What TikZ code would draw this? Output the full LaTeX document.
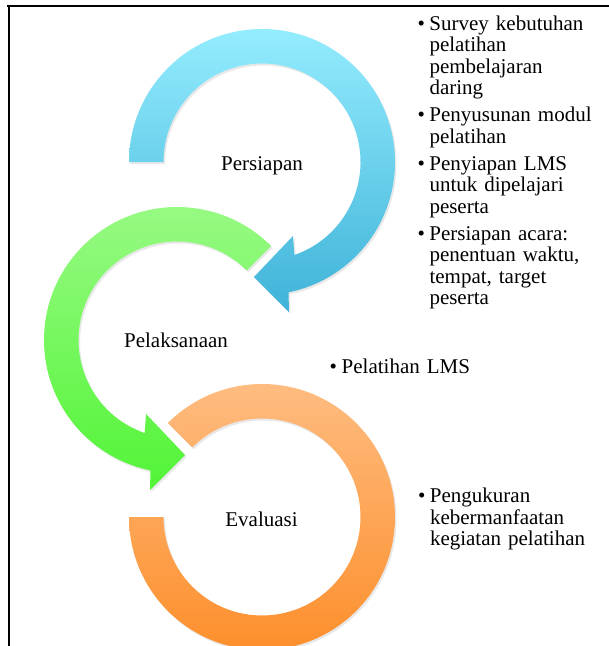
\documentclass[tikz,border=0pt]{standalone}
\usepackage{fontspec}
\setmainfont{Liberation Serif}
\usetikzlibrary{shadows}

\definecolor{persiapanTop}{HTML}{94ECFE}
\definecolor{persiapanBot}{HTML}{3FB3D8}
\definecolor{pelaksanaanTop}{HTML}{9AFA86}
\definecolor{pelaksanaanBot}{HTML}{52F437}
\definecolor{evaluasiTop}{HTML}{FEBC80}
\definecolor{evaluasiBot}{HTML}{FD8F2C}

\tikzset{
    ringarrow/.style 2 args={top color=#1, bottom color=#2, draw=none,
        drop shadow={shadow xshift=1.5pt, shadow yshift=-2pt, opacity=0.18}},
    captext/.style={font=\fontsize{21}{21.5}\selectfont, inner sep=0pt},
    bulletlist/.style={captext, align=left, text width=190pt, anchor=north west}
}
\newcommand{\bul}[1]{\hangindent=12pt\hangafter=1\makebox[12pt][l]{\strut\textbullet}#1\par}

\begin{document}
\begin{tikzpicture}[x=1pt, y=1pt]
    \useasboundingbox (0,0) rectangle (609,-646);
    \draw[line width=2.7pt] (7,-6) -- (609,-6);
    \draw[line width=2pt] (8.5,-6) -- (8.5,-646);
    \begin{scope}[shift={(262,-162)}]
        \path[ringarrow={persiapanTop}{persiapanBot}] (180:98.5) -- (180:133)
            arc[start angle=180, end angle=-78.5, radius=133] -- (-79.8:152.4) -- (-94:115.3)
            -- (-67.3:80.2) -- (-70.8:98.5) arc[start angle=-70.8, end angle=180, radius=98.5] -- cycle;
    \end{scope}
    \begin{scope}[shift={(177,-340)}]
        \path[ringarrow={pelaksanaanTop}{pelaksanaanBot}] (45:98.5) -- (45:133)
            arc[start angle=45, end angle=258.5, radius=133] -- (259.8:152.4) -- (274:115.3)
            -- (247.3:80.2) -- (250.8:98.5) arc[start angle=250.8, end angle=45, radius=98.5] -- cycle;
    \end{scope}
    \begin{scope}[shift={(262,-517)}]
        \path[ringarrow={evaluasiTop}{evaluasiBot}] (180:98.5) -- (180:133)
            arc[start angle=180, end angle=495, radius=133] -- (135:98.5)
            arc[start angle=135, end angle=-180, radius=98.5] -- cycle;
    \end{scope}
    \node[captext, anchor=base] (persiapan) at (262,-170) {Persiapan};
    \node[captext, anchor=base] (pelaksanaan) at (176,-347) {Pelaksanaan};
    \node[captext, anchor=base] (evaluasi) at (261.5,-526.5) {Evaluasi};
    \node[bulletlist] (persiapanList) at (417.3,-15) {%
        \bul{Survey kebutuhan\newline pelatihan\newline pembelajaran\newline daring}\vspace{5.5pt}
        \bul{Penyusunan modul\newline pelatihan}\vspace{5.5pt}
        \bul{Penyiapan LMS\newline untuk dipelajari\newline peserta}\vspace{5.5pt}
        \bul{Persiapan acara:\newline penentuan waktu,\newline tempat, target\newline peserta}};
    \node[bulletlist] (pelaksanaanList) at (329.5,-358.3) {\bul{Pelatihan LMS}};
    \node[bulletlist] (evaluasiList) at (417.8,-487.7) {%
        \bul{Pengukuran\newline kebermanfaatan\newline kegiatan pelatihan}};
\end{tikzpicture}
\end{document}
